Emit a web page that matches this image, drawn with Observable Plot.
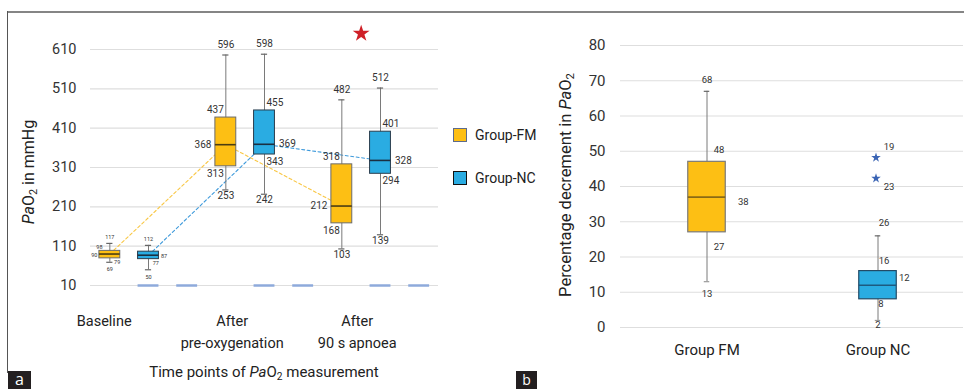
<!DOCTYPE html>
<html><head><meta charset="utf-8">
<script src="https://cdn.jsdelivr.net/npm/d3@7"></script>
<script src="https://cdn.jsdelivr.net/npm/@observablehq/plot@0.6"></script>
<style>
body{margin:0;background:#fff;font-family:Roboto,sans-serif;}
#root{position:relative;width:964px;height:389px;overflow:hidden;background:#fff;}
#root svg{position:absolute;top:0;}
.ov{position:absolute;white-space:nowrap;color:#222;font-family:Roboto,sans-serif;}
.sub{font-size:0.68em;position:relative;top:0.3em;}
.rot{transform:translate(-50%,-50%) rotate(-90deg);transform-origin:center;}
.panel-tag{position:absolute;background:#231f20;color:#fff;text-align:center;font-family:"Open Sans",sans-serif;}
.sw{position:absolute;width:12px;height:12px;}
</style></head>
<body><div id="root"></div>
<script>
// ---------- Panel a data: PaO2 (mmHg) at three time points ----------
const timePoints = ["Baseline", "After\npre-oxygenation", "After\n90 s apnoea"];
const groupNames = ["Group-FM", "Group-NC"];
const fmMin    = [69, 253, 103];
const fmQ1     = [79, 313, 168];
const fmMedian = [90, 368, 212];
const fmQ3     = [98, 437, 318];
const fmMax    = [117, 596, 482];
const ncMin    = [50, 242, 139];
const ncQ1     = [77, 343, 294];
const ncMedian = [87, 369, 328];
const ncQ3     = [96, 455, 401];
const ncMax    = [112, 598, 512];
const ncQ3Labelled = [false, true, true];
const yTicksA = [10, 110, 210, 310, 410, 510, 610];
const significantTimes = [2];

// ---------- Panel b data: percentage decrement in PaO2 ----------
const decGroups = ["Group FM", "Group NC"];
const decMin    = [13, 2];
const decQ1     = [27, 8];
const decMedian = [37, 12];
const decQ3     = [47, 16];
const decMax    = [67, 26];
const decLabelMin = ["13", "2"];
const decLabelQ1  = ["27", "8"];
const decLabelMed = ["38", "12"];
const decLabelQ3  = ["48", "16"];
const decLabelMax = ["68", "26"];
const outlierValues = [48.2, 42.3];
const outlierIds = ["19", "23"];
const yTicksB = [0, 10, 20, 30, 40, 50, 60, 70, 80];

// ---------- styles ----------
const fmColor = "#FDBF14", ncColor = "#2AACE2";
const textColor = "#333";
const root = document.getElementById("root");

// ---------- Panel a ----------
const boxesA = timePoints.flatMap((t, i) => [
  {time: i, group: "FM", c: 3 * i + 0.5, min: fmMin[i], q1: fmQ1[i], med: fmMedian[i], q3: fmQ3[i], max: fmMax[i],
   labels: {min: String(fmMin[i]), q1: String(fmQ1[i]), med: String(fmMedian[i]), q3: String(fmQ3[i]), max: String(fmMax[i])}},
  {time: i, group: "NC", c: 3 * i + 1.5, min: ncMin[i], q1: ncQ1[i], med: ncMedian[i], q3: ncQ3[i], max: ncMax[i],
   labels: {min: String(ncMin[i]), q1: String(ncQ1[i]), med: String(ncMedian[i]), q3: ncQ3Labelled[i] ? String(ncQ3[i]) : null, max: String(ncMax[i])}}
]);
const hw = 0.27, capHw = 0.08;
const dashSlots = timePoints.flatMap((t, i) => [3 * i + 1.5, 3 * i + 2.5]);

const cfgA = {
  base: {fontSize: 5.5, sideGap: 2, max: {pos: "c", dy: -6}, q3: {pos: "edge", dy: -4}, med: {pos: "side", dy: 1}, q1: {pos: "redge", dy: 4}, min: {pos: "c", dy: 7}},
  main: {fontSize: 10, sideGap: 4, max: {pos: "c", dy: -10}, q3: {pos: "edge", dy: -8}, med: {pos: "side", dy: 0}, q1: {pos: "edge", dy: 7}, min: {pos: "c", dy: 6}}
};
const labelMarksA = [];
for (const g of ["FM", "NC"]) for (const kind of ["base", "main"]) {
  const cfg = cfgA[kind];
  const side = g === "FM" ? -1 : 1;
  const data = boxesA.filter(b => b.group === g && ((kind === "base") === (b.time === 0)));
  for (const stat of ["max", "q3", "med", "q1", "min"]) {
    const s = cfg[stat];
    labelMarksA.push(Plot.text(data.filter(b => b.labels[stat] != null), {
      x: b => s.pos === "c" ? b.c : s.pos === "redge" ? b.c + hw * 0.7 : b.c + side * hw,
      y: b => b[stat],
      text: b => b.labels[stat],
      dy: s.dy,
      dx: s.pos === "side" ? side * cfg.sideGap : 0,
      textAnchor: s.pos === "side" ? (side < 0 ? "end" : "start") : "middle",
      fontSize: cfg.fontSize, fill: textColor
    }));
  }
}
const catDx = [-25, -13, -4];

const boxMarks = (g, fill, stroke, medStroke) => {
  const d = boxesA.filter(b => b.group === g);
  return [
    Plot.ruleX(d, {x: "c", y1: "min", y2: "max", stroke: "#7a7a7a", strokeWidth: 1}),
    Plot.ruleY(d, {x1: b => b.c - capHw, x2: b => b.c + capHw, y: "max", stroke: "#666", strokeWidth: 1.2}),
    Plot.ruleY(d, {x1: b => b.c - capHw, x2: b => b.c + capHw, y: "min", stroke: "#666", strokeWidth: 1.2}),
    Plot.rect(d, {x1: b => b.c - hw, x2: b => b.c + hw, y1: "q1", y2: "q3", fill, stroke, strokeWidth: 1}),
    Plot.ruleY(d, {x1: b => b.c - hw, x2: b => b.c + hw, y: "med", stroke: medStroke, strokeWidth: 1.6})
  ];
};

const plotA = Plot.plot({
  width: 520, height: 389,
  marginLeft: 90, marginRight: 82, marginTop: 49, marginBottom: 104,
  style: {fontFamily: "Roboto, sans-serif", color: textColor, background: "transparent"},
  x: {domain: [0, 9], axis: null},
  y: {domain: [10, 610], axis: null},
  marks: [
    Plot.ruleY(yTicksA, {stroke: "#dedede", strokeWidth: 1.2}),
    Plot.text(yTicksA, {y: d => d, frameAnchor: "left", dx: -14, textAnchor: "end", fontSize: 14.5, fill: textColor}),
    Plot.ruleY(dashSlots, {x1: d => d - hw, x2: d => d + hw, y: () => 10, stroke: "#8eaadb", strokeWidth: 2.5}),
    Plot.line(boxesA.filter(b => b.group === "FM"), {x: "c", y: "med", stroke: "#F9C744", strokeWidth: 1.1, strokeDasharray: "3,2.5"}),
    Plot.line(boxesA.filter(b => b.group === "NC"), {x: "c", y: "med", stroke: "#3E9ADB", strokeWidth: 1.1, strokeDasharray: "3,2.5"}),
    ...boxMarks("FM", fmColor, "#6b6b6b", "#4a3d12"),
    ...boxMarks("NC", ncColor, "#2a3d4d", "#1b2f40"),
    ...labelMarksA,
    Plot.dot(significantTimes, {x: i => 3 * i + 1, y: () => 610, dy: -16, symbol: "star", r: 5.3, fill: "#CF2027", stroke: "none"}),
    ...timePoints.map((t, i) => Plot.text([t], {x: () => 3 * i + 1, text: d => d, dx: catDx[i], frameAnchor: "bottom", dy: 25, lineAnchor: "top", lineHeight: 1.5, fontSize: 14.5, fill: "#222"}))
  ]
});
plotA.style.left = "0px";
root.appendChild(plotA);

// ---------- Panel b ----------
const offB = [
  {max: [0, -11], q3: [12, -12], med: [31, 5], q1: [12, 15], min: [0, 12]},
  {max: [6, -13], q3: [6, -10], med: [21, -7], q1: [3, 5], min: [0, 5]}
];
const statsB = decGroups.map((g, i) => ({g, i, min: decMin[i], q1: decQ1[i], med: decMedian[i], q3: decQ3[i], max: decMax[i],
  labels: {min: decLabelMin[i], q1: decLabelQ1[i], med: decLabelMed[i], q3: decLabelQ3[i], max: decLabelMax[i]}}));
const bandW = 171.5, boxInset = (bandW - 38) / 2, capInset = (bandW - 6) / 2;
const labelMarksB = statsB.flatMap(s => ["max", "q3", "med", "q1", "min"].map(stat => Plot.text([s], {
  x: d => d.g, y: d => d[stat], text: d => d.labels[stat],
  dx: offB[s.i][stat][0], dy: offB[s.i][stat][1],
  textAnchor: stat === "med" ? "start" : "middle", fontSize: 9.5, fill: textColor
})));
const outliers = outlierValues.map((v, k) => ({g: "Group NC", v, id: outlierIds[k], k}));

const bStyles = [
  {fill: fmColor, stroke: "#7a7a7a", med: "#8a6a14"},
  {fill: ncColor, stroke: "#234a66", med: "#1d5a80"}
];
const plotB = Plot.plot({
  width: 444, height: 389,
  marginLeft: 100, marginRight: 1, marginTop: 45, marginBottom: 62,
  style: {fontFamily: "Roboto, sans-serif", color: textColor, background: "transparent"},
  x: {type: "band", domain: decGroups, padding: 0, axis: null},
  y: {domain: [0, 80], axis: null},
  marks: [
    Plot.ruleY(yTicksB, {stroke: "#dedede", strokeWidth: 1.2}),
    Plot.text(yTicksB, {y: d => d, frameAnchor: "left", dx: -15, textAnchor: "end", fontSize: 15, fill: textColor}),
    Plot.ruleX(statsB, {x: "g", y1: "min", y2: "max", stroke: "#7a7a7a", strokeWidth: 1}),
    Plot.tickY(statsB, {x: "g", y: "max", stroke: "#666", strokeWidth: 1.2, insetLeft: capInset, insetRight: capInset}),
    Plot.tickY(statsB, {x: "g", y: "min", stroke: "#999", strokeWidth: 1.2, insetLeft: capInset, insetRight: capInset}),
    ...statsB.map(s => Plot.barY([s], {x: "g", y1: "q1", y2: "q3", fill: bStyles[s.i].fill, stroke: bStyles[s.i].stroke, strokeWidth: 1.2, insetLeft: boxInset, insetRight: boxInset})),
    ...statsB.map(s => Plot.tickY([s], {x: "g", y: "med", stroke: bStyles[s.i].med, strokeWidth: 1.6, insetLeft: boxInset, insetRight: boxInset})),
    ...labelMarksB,
    Plot.dot(outliers, {x: "g", y: "v", dx: -2, symbol: "star", r: 3, fill: "#3A64B4", stroke: "none"}),
    Plot.text(outliers.filter(o => o.k === 0), {x: "g", y: "v", text: "id", dx: 11, dy: -11, fontSize: 9.5, fill: textColor}),
    Plot.text(outliers.filter(o => o.k === 1), {x: "g", y: "v", text: "id", dx: 11, dy: 9, fontSize: 9.5, fill: textColor}),
    Plot.text(decGroups, {x: d => d, text: d => d, frameAnchor: "bottom", dy: 23, lineAnchor: "middle", fontSize: 15, fill: "#222"})
  ]
});
plotB.style.left = "520px";
root.appendChild(plotB);

// ---------- HTML overlays: titles, legend, frame, panel tags ----------
function add(html, css, cls = "ov") {
  const d = document.createElement("div");
  d.className = cls; d.innerHTML = html; Object.assign(d.style, css); root.appendChild(d); return d;
}
// frame lines
add("", {left: "8px", top: "11px", width: "960px", height: "0px", borderTop: "2px solid #858585"}, "ov");
add("", {left: "7px", top: "11px", width: "0px", height: "362px", borderLeft: "1.5px solid #555"}, "ov");
// axis titles
add('<i>Pa</i>O<span class="sub">2</span> in mmHg', {left: "28px", top: "172px", fontSize: "16px"}, "ov rot");
add('Time points of <i>Pa</i>O<span class="sub">2</span> measurement', {left: "264px", top: "372px", fontSize: "15px", transform: "translate(-50%,-50%)"});
add('Percentage decrement in <i>Pa</i>O<span class="sub">2</span>', {left: "565px", top: "185px", fontSize: "16.5px"}, "ov rot");
// legend
add("", {left: "453px", top: "128px", width: "12px", height: "12px", background: fmColor, border: "1.5px solid #5d6b8c"}, "sw");
add("", {left: "453px", top: "171px", width: "12px", height: "12px", background: ncColor, border: "1.5px solid #111"}, "sw");
add(groupNames[0], {left: "475px", top: "135px", fontSize: "14px", transform: "translateY(-50%)"});
add(groupNames[1], {left: "475px", top: "178px", fontSize: "14px", transform: "translateY(-50%)"});
// panel tags
add("a", {left: "8px", top: "371px", width: "23px", height: "18px", fontSize: "16px", lineHeight: "16px"}, "panel-tag");
add("b", {left: "516px", top: "371px", width: "21px", height: "18px", fontSize: "14px", lineHeight: "18px"}, "panel-tag");
</script>
</body></html>
